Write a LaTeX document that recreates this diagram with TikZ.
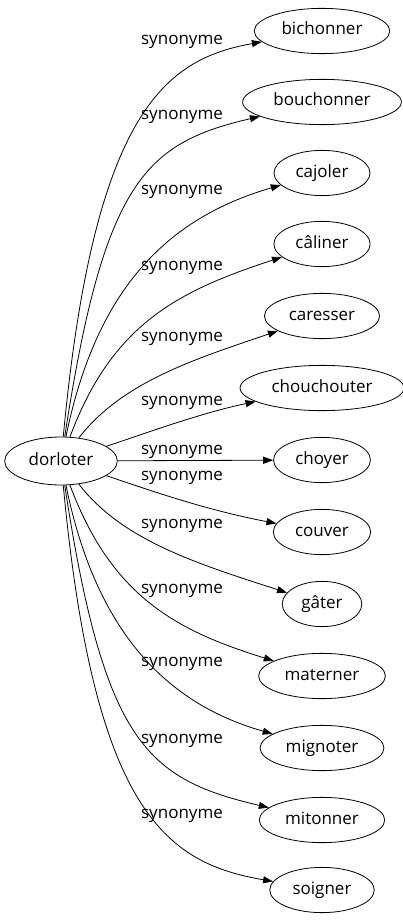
\documentclass[tikz,border=0pt]{standalone}
\usepackage{fontspec}
\setmainfont{Open Sans}
\usetikzlibrary{arrows.meta,shapes.geometric}

\begin{document}
\begin{tikzpicture}[x=1pt,y=-1pt,
    word/.style={draw,ellipse,line width=0.8pt,inner xsep=7.5pt,inner ysep=8pt,
      text height=12pt,text depth=4pt,font=\fontsize{17}{20}\selectfont},
    syn/.style={font=\fontsize{17}{20}\selectfont},
    link/.style={line width=0.8pt,-{Triangle[length=10pt,width=7pt]}}]
  \useasboundingbox (0,0) rectangle (403,923);
  % the headword
  \node[word,minimum height=48pt] (dorloter) at (61,461) {dorloter};
  % the synonyms, one column
  \node[word] (bichonner) at (322,31) {bichonner};
  \node[word] (bouchonner) at (322,102) {bouchonner};
  \node[word] (cajoler) at (322,173) {cajoler};
  \node[word] (caliner) at (322,244) {câliner};
  \node[word] (caresser) at (322,316) {caresser};
  \node[word] (chouchouter) at (322,388) {chouchouter};
  \node[word] (choyer) at (322,460) {choyer};
  \node[word] (couver) at (322,532) {couver};
  \node[word] (gater) at (322,604) {gâter};
  \node[word] (materner) at (322,676) {materner};
  \node[word] (mignoter) at (322,748) {mignoter};
  \node[word] (mitonner) at (322,820) {mitonner};
  \node[word] (soigner) at (322,890) {soigner};
  % edge labels
  \node[syn] (s1) at (182,42) {synonyme};
  \node[syn] (s2) at (182,117) {synonyme};
  \node[syn] (s3) at (182,192) {synonyme};
  \node[syn] (s4) at (182,268) {synonyme};
  \node[syn] (s5) at (182,339) {synonyme};
  \node[syn] (s6) at (182,403) {synonyme};
  \node[syn] (s7) at (182,452) {synonyme};
  \node[syn] (s8) at (182,478) {synonyme};
  \node[syn] (s9) at (182,526) {synonyme};
  \node[syn] (s10) at (182,591) {synonyme};
  \node[syn] (s11) at (182,664) {synonyme};
  \node[syn] (s12) at (182,741) {synonyme};
  \node[syn] (s13) at (182,816) {synonyme};
  % edges
  \draw[link] (dorloter) .. controls (94,108) and (167,59) .. (bichonner);
  \draw[link] (dorloter) .. controls (104,180) and (146,143) .. (bouchonner);
  \draw[link] (dorloter) .. controls (98,280) and (175,216) .. (cajoler);
  \draw[link] (dorloter) .. controls (112,324) and (178,291) .. (caliner);
  \draw[link] (dorloter) .. controls (122,382) and (195,359) .. (caresser);
  \draw[link] (dorloter) .. controls (135,437) and (200,413) .. (chouchouter);
  \draw[link] (dorloter) -- (choyer);
  \draw[link] (dorloter) .. controls (135,485) and (200,509) .. (couver);
  \draw[link] (dorloter) .. controls (122,540) and (195,563) .. (gater);
  \draw[link] (dorloter) .. controls (112,598) and (178,631) .. (materner);
  \draw[link] (dorloter) .. controls (98,642) and (175,706) .. (mignoter);
  \draw[link] (dorloter) .. controls (104,742) and (146,779) .. (mitonner);
  \draw[link] (dorloter) .. controls (94,814) and (167,863) .. (soigner);
\end{tikzpicture}
\end{document}
